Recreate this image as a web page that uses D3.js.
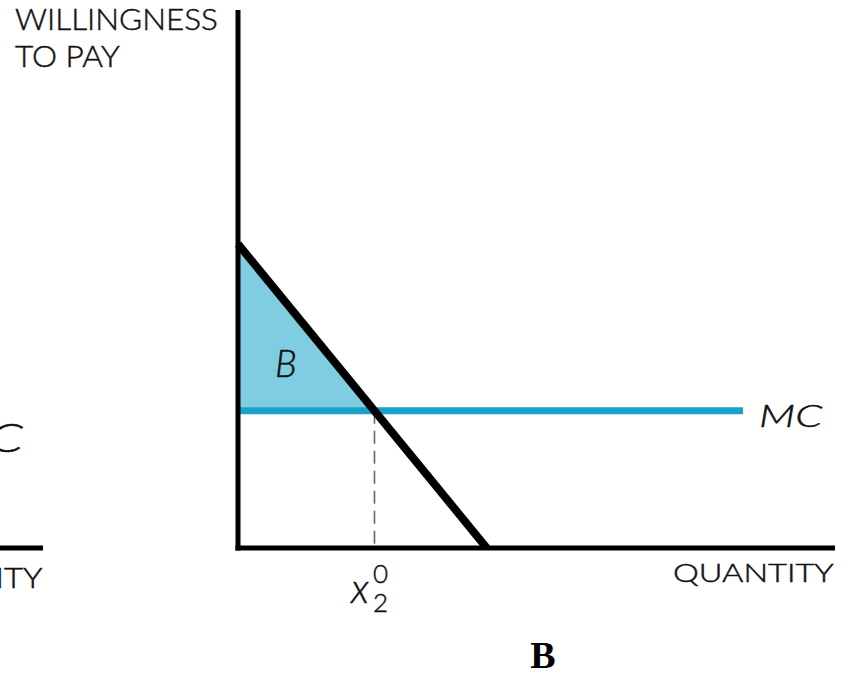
<!DOCTYPE html>
<html><head><meta charset="utf-8">
<script src="https://cdn.jsdelivr.net/npm/d3@7"></script>
<style>body{margin:0;background:#fff;} svg{display:block;}</style>
</head><body>
<script>
// Data (abstract units)
const quantityDomain = [0, 12];
const priceDomain = [0, 20];
const demandIntercept = 11.3;   // price at quantity 0
const demandQuantityMax = 5;    // quantity at price 0
const marginalCost = 5.1;
const mcQuantityEnd = 10.15;
const yLabelLines = ["WILLINGNESS", "TO PAY"];
const xLabel = "QUANTITY";
const mcLabel = "MC";
const areaLabel = "B";
const panelLabel = "B";
const equilibriumLabel = ["x", "0", "2"]; // symbol, superscript, subscript

const W = 848, H = 676;
const svg = d3.select("body").append("svg").attr("width", W).attr("height", H);
const x = d3.scaleLinear().domain(quantityDomain).range([238, 835]);
const y = d3.scaleLinear().domain(priceDomain).range([548, 10]);
const font = "Lato, 'Open Sans', sans-serif";

const demand = q => demandIntercept * (1 - q / demandQuantityMax);
const qStar = demandQuantityMax * (1 - marginalCost / demandIntercept);

// Shaded area B
svg.append("path")
  .attr("d", d3.line().x(d => x(d[0])).y(d => y(d[1]))([[0, demandIntercept], [qStar, marginalCost], [0, marginalCost]]) + "Z")
  .attr("fill", "#80cde1");

// dashed drop line
svg.append("line").attr("x1", x(qStar)).attr("x2", x(qStar)).attr("y1", y(marginalCost)).attr("y2", y(0))
  .attr("stroke", "#666").attr("stroke-width", 1.6).attr("stroke-dasharray", "13,7");

// MC line
svg.append("line").attr("x1", x(0)).attr("x2", x(mcQuantityEnd)).attr("y1", y(marginalCost)).attr("y2", y(marginalCost))
  .attr("stroke", "#18a2c9").attr("stroke-width", 7);

// demand line
svg.append("line").attr("x1", x(0)).attr("y1", y(demand(0))).attr("x2", x(demandQuantityMax)).attr("y2", y(demand(demandQuantityMax)))
  .attr("stroke", "#000").attr("stroke-width", 8);

// axes
svg.append("line").attr("x1", x(0)).attr("x2", x(0)).attr("y1", y(priceDomain[1])).attr("y2", y(0) + 2.5)
  .attr("stroke", "#000").attr("stroke-width", 5);
svg.append("line").attr("x1", x(0) - 2.5).attr("x2", x(quantityDomain[1])).attr("y1", y(0)).attr("y2", y(0))
  .attr("stroke", "#000").attr("stroke-width", 5);

// label with optional horizontal stretch to emulate the wide original typeface
function label(xp, yp, txt, size, opts = {}) {
  const g = svg.append("g").attr("transform", `translate(${xp},${yp})`);
  const t = g.append("text").attr("font-family", font).attr("font-size", size)
    .attr("font-weight", opts.weight || 300).attr("fill", "#111")
    .attr("stroke", "#111").attr("stroke-width", 0.45).text(txt);
  if (opts.italic) t.attr("font-style", "italic");
  if (opts.width) {
    const bb = t.node().getBBox();
    const s = opts.width / bb.width;
    t.attr("transform", `scale(${s},1)`);
    if (opts.anchor === "end") g.attr("transform", `translate(${xp - opts.width},${yp})`);
  }
  return t;
}

// left panel fragments (cut off at the edge, as in the reference)
svg.append("line").attr("x1", -10).attr("x2", 43).attr("y1", y(0)).attr("y2", y(0)).attr("stroke", "#000").attr("stroke-width", 5);
label(43, 588, xLabel, 28, {width: 162, anchor: "end"});
label(24, 452, mcLabel, 40, {italic: true, width: 80, anchor: "end"});

// texts
label(15, 30, yLabelLines[0], 30, {width: 203});
label(15, 67, yLabelLines[1], 30, {width: 105});
label(673, 582, xLabel, 25, {width: 161});
label(759, 427, mcLabel, 31, {italic: true, width: 64});
label(275, 377, areaLabel, 37, {italic: true});

// x_2^0 as one text element with tspans
const eq = svg.append("text").attr("x", 351).attr("y", 603).attr("font-family", font).attr("fill", "#111")
  .attr("stroke", "#111").attr("stroke-width", 0.45);
eq.append("tspan").attr("font-size", 41).attr("font-style", "italic").attr("font-weight", 300).text(equilibriumLabel[0]);
eq.append("tspan").attr("font-size", 26).attr("font-weight", 300).attr("dx", 4).attr("dy", -20).text(equilibriumLabel[1]);
eq.append("tspan").attr("font-size", 26).attr("font-weight", 300).attr("dx", -15).attr("dy", 29).text(equilibriumLabel[2]);

svg.append("text").attr("x", 543).attr("y", 668).attr("text-anchor", "middle").attr("font-family", "'Liberation Serif', serif")
  .attr("font-size", 38).attr("font-weight", "bold").text(panelLabel);
</script>
</body></html>
